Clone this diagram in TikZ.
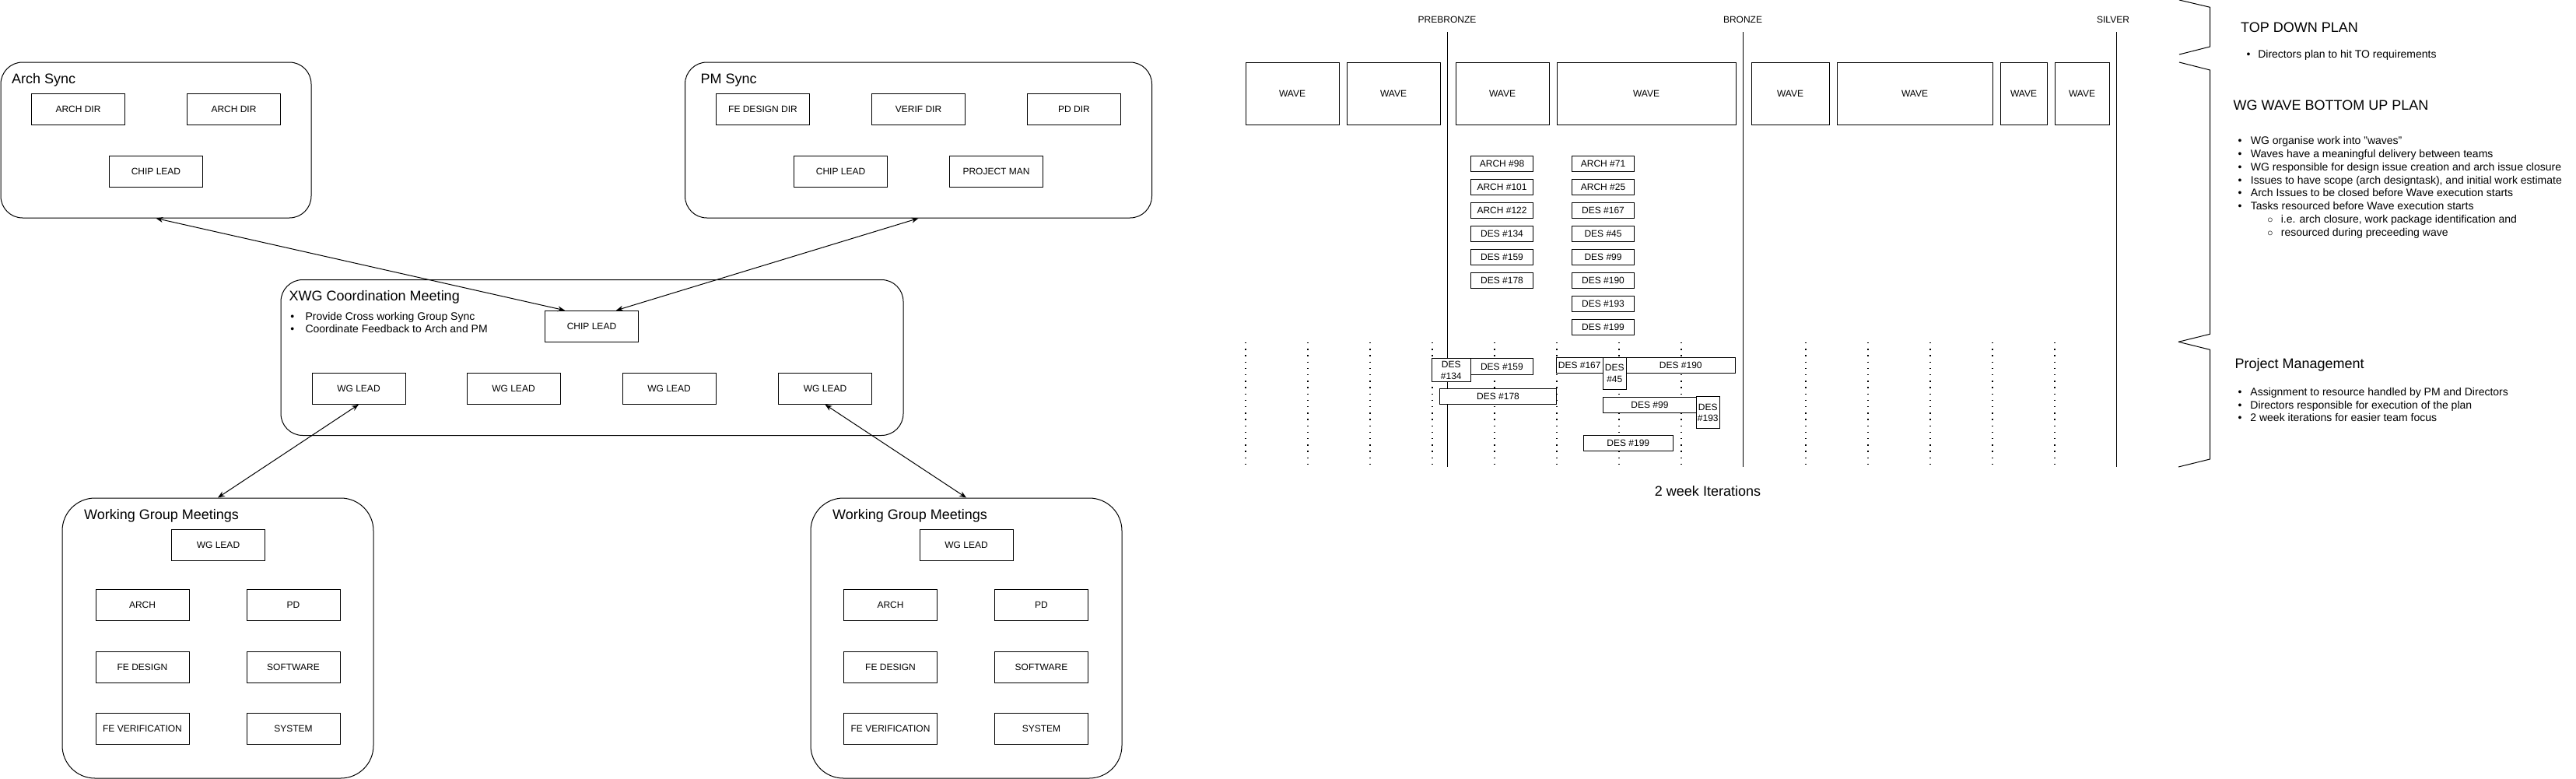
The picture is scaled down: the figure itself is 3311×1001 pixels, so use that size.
\documentclass[tikz,border=0pt]{standalone}
\usepackage{fontspec}
\setmainfont{Liberation Sans}
\usetikzlibrary{arrows.meta}

\begin{document}
\begin{tikzpicture}
	[x=1pt,y=-1pt,
	grp/.style={draw=black,line width=1pt,rounded corners=28pt,inner sep=0pt},
	role/.style={draw=black,line width=1pt,minimum width=120pt,minimum height=40pt,inner sep=0pt,font=\fontsize{12}{14.4}\selectfont},
	ttl/.style={anchor=base west,inner sep=0pt,font=\fontsize{18}{21.6}\selectfont},
	wave/.style={draw=black,line width=1pt,minimum height=80pt,inner sep=0pt,font=\fontsize{12}{14.4}\selectfont},
	issue/.style={draw=black,fill=white,line width=1pt,minimum width=80pt,minimum height=20pt,inner sep=0pt,font=\fontsize{12}{14.4}\selectfont},
	bar/.style={draw=black,fill=white,line width=1pt,inner sep=0pt,align=center,font=\fontsize{12}{14.4}\selectfont},
	gate/.style={anchor=base,inner sep=0pt,font=\fontsize{12}{14.4}\selectfont},
	iter/.style={line width=1.4pt,dash pattern=on 1.4pt off 6.8pt},
	link/.style={line width=1pt,>={Stealth[length=9pt,width=7pt]},<->},
	notes/.style={anchor=base west,inner sep=0pt}]
	\useasboundingbox (0,0) rectangle (3311,1001);

	% sync meetings
	\node[grp,minimum width=399pt,minimum height=200pt] at (200.5,180) (archsync) {};
	\node[ttl] at (15,107) (archttl) {Arch Sync};
	\node[role] at (100.5,140) (archdira) {ARCH DIR};
	\node[role] at (300.5,140) (archdirb) {ARCH DIR};
	\node[role] at (200.5,220) (archchip) {CHIP LEAD};

	\node[grp,minimum width=600pt,minimum height=200pt] at (1180.5,180) (pmsync) {};
	\node[ttl] at (900.5,107) (pmttl) {PM Sync};
	\node[role] at (980.5,140) (fedir) {FE DESIGN DIR};
	\node[role] at (1180.5,140) (verifdir) {VERIF DIR};
	\node[role] at (1380.5,140) (pddir) {PD DIR};
	\node[role] at (1080.5,220) (pmchip) {CHIP LEAD};
	\node[role] at (1280.5,220) (projman) {PROJECT MAN};

	% cross working group
	\node[grp,minimum width=800pt,minimum height=200pt] at (761,459.5) (xwg) {};
	\node[ttl] at (371.5,386.7) (xwgttl) {XWG Coordination Meeting};
	\node[notes,font=\fontsize{14}{16}\selectfont] at (373.2,411) (xwgnotes) {\begin{tabular}[t]{@{}l@{\hspace{14.2pt}}l@{}}
		\textbullet & Provide Cross working Group Sync\\
		\textbullet & Coordinate Feedback to Arch and PM
	\end{tabular}};
	\node[role] at (760.5,419.3) (xchip) {CHIP LEAD};
	\node[role] at (461,499.3) (xlead1) {WG LEAD};
	\node[role] at (660,499.3) (xlead2) {WG LEAD};
	\node[role] at (860,499.3) (xlead3) {WG LEAD};
	\node[role] at (1060.5,499.3) (xlead4) {WG LEAD};

	% working groups
	\node[grp,rounded corners=42pt,minimum width=400pt,minimum height=360pt] at (280,820) (wga) {};
	\node[ttl] at (108,667) (wgattl) {Working Group Meetings};
	\node[role] at (280.5,700) (wgalead) {WG LEAD};
	\node[role] at (183,777) (wgaarch) {ARCH};
	\node[role] at (377,777) (wgapd) {PD};
	\node[role] at (183,857) (wgafe) {FE DESIGN};
	\node[role] at (377,857) (wgasw) {SOFTWARE};
	\node[role] at (183,936.5) (wgaver) {FE VERIFICATION};
	\node[role] at (377,936.5) (wgasys) {SYSTEM};

	\node[grp,rounded corners=42pt,minimum width=400pt,minimum height=360pt] at (1242,820) (wgb) {};
	\node[ttl] at (1070,667) (wgbttl) {Working Group Meetings};
	\node[role] at (1242,700) (wgblead) {WG LEAD};
	\node[role] at (1144.5,777) (wgbarch) {ARCH};
	\node[role] at (1338.5,777) (wgbpd) {PD};
	\node[role] at (1144.5,857) (wgbfe) {FE DESIGN};
	\node[role] at (1338.5,857) (wgbsw) {SOFTWARE};
	\node[role] at (1144.5,936.5) (wgbver) {FE VERIFICATION};
	\node[role] at (1338.5,936.5) (wgbsys) {SYSTEM};

	\draw[link] (archsync.south) -- ([xshift=26pt]xchip.north west);
	\draw[link] (pmsync.south) -- ([xshift=-29pt]xchip.north east);
	\draw[link] (wga.north) -- (xlead1.south);
	\draw[link] (wgb.north) -- (xlead4.south);

	% iterations
	\draw[iter] (1601,440) -- (1601,600);
	\draw[iter] (1681,440) -- (1681,600);
	\draw[iter] (1761,440) -- (1761,600);
	\draw[iter] (1841,440) -- (1841,600);
	\draw[iter] (1921,440) -- (1921,600);
	\draw[iter] (2001,440) -- (2001,600);
	\draw[iter] (2081,440) -- (2081,600);
	\draw[iter] (2161,440) -- (2161,600);
	\draw[iter] (2321,440) -- (2321,600);
	\draw[iter] (2401,440) -- (2401,600);
	\draw[iter] (2481,440) -- (2481,600);
	\draw[iter] (2561,440) -- (2561,600);
	\draw[iter] (2641,440) -- (2641,600);

	% milestones
	\node[gate] at (1860,29.3) (prebronze) {PREBRONZE};
	\node[gate] at (2240,29.3) (bronze) {BRONZE};
	\node[gate] at (2716,29.3) (silver) {SILVER};
	\draw[line width=1pt] (1860,41) -- (1860,600);
	\draw[line width=1pt] (2240,41) -- (2240,600);
	\draw[line width=1pt] (2720.5,41) -- (2720.5,600);

	% waves
	\node[wave,minimum width=120pt] at (1661,120) (wave1) {WAVE};
	\node[wave,minimum width=120pt] at (1791,120) (wave2) {WAVE};
	\node[wave,minimum width=120pt] at (1931,120) (wave3) {WAVE};
	\node[wave,minimum width=230pt] at (2116,120) (wave4) {WAVE};
	\node[wave,minimum width=100pt] at (2301,120) (wave5) {WAVE};
	\node[wave,minimum width=200pt] at (2461,120) (wave6) {WAVE};
	\node[wave,minimum width=60pt] at (2601,120) (wave7) {WAVE};
	\node[wave,minimum width=70pt] at (2676,120) (wave8) {WAVE};

	% wave issues
	\node[issue] at (1930.5,210.3) (arch98) {ARCH \#98};
	\node[issue] at (1930.5,240.3) (arch101) {ARCH \#101};
	\node[issue] at (1930.5,270.3) (arch122) {ARCH \#122};
	\node[issue] at (1930.5,300.3) (des134) {DES \#134};
	\node[issue] at (1930.5,330.3) (des159) {DES \#159};
	\node[issue] at (1930.5,360.3) (des178) {DES \#178};
	\node[issue] at (2060.5,210.3) (arch71) {ARCH \#71};
	\node[issue] at (2060.5,240.3) (arch25) {ARCH \#25};
	\node[issue] at (2060.5,270.3) (des167) {DES \#167};
	\node[issue] at (2060.5,300.3) (des45) {DES \#45};
	\node[issue] at (2060.5,330.3) (des99) {DES \#99};
	\node[issue] at (2060.5,360.3) (des190) {DES \#190};
	\node[issue] at (2060.5,390) (des193) {DES \#193};
	\node[issue] at (2060.5,420) (des199) {DES \#199};

	% scheduled issues
	\node[bar,minimum width=50.5pt,minimum height=30pt] at (1865.3,475.7) (run134) {DES\\\#134};
	\node[bar,minimum width=80pt,minimum height=21pt] at (1930.4,471.2) (run159) {DES \#159};
	\node[bar,minimum width=150.3pt,minimum height=20pt] at (1925.5,509.3) (run178) {DES \#178};
	\node[bar,minimum width=60.4pt,minimum height=20pt] at (2030.2,469.3) (run167) {DES \#167};
	\node[bar,minimum width=140pt,minimum height=20pt] at (2160.3,469.3) (run190) {DES \#190};
	\node[bar,minimum width=30pt,minimum height=41.4pt] at (2075.3,480) (run45) {DES\\\#45};
	\node[bar,minimum width=120pt,minimum height=20pt] at (2120.4,520) (run99) {DES \#99};
	\node[bar,minimum width=30pt,minimum height=40.7pt] at (2195.3,530.3) (run193) {DES\\\#193};
	\node[bar,minimum width=115.6pt,minimum height=20pt] at (2092.8,569.3) (run199) {DES \#199};
	\node[anchor=base,inner sep=0pt,font=\fontsize{18}{21.6}\selectfont] at (2195,637) (iters) {2 week Iterations};

	% brackets
	\draw[line width=1pt] (2801,0) -- (2840.5,9.3) -- (2840.5,60) -- (2801,70);
	\draw[line width=1pt] (2801,80) -- (2840.5,90) -- (2840.5,429.3) -- (2800,439.3);
	\draw[line width=1pt] (2800,439.3) -- (2840.5,449.3) -- (2840.5,590) -- (2800,600);

	% plans
	\node[ttl] at (2880,41.7) (topdown) {TOP DOWN PLAN};
	\node[notes,font=\fontsize{14}{16.8}\selectfont] at (2887.5,74) (topnotes) {\begin{tabular}[t]{@{}l@{\hspace{9.7pt}}l@{}}
		\textbullet & Directors plan to hit TO requirements
	\end{tabular}};
	\node[ttl] at (2870.5,141.7) (bottomup) {WG WAVE BOTTOM UP PLAN};
	\node[notes,font=\fontsize{14}{16.8}\selectfont] at (2876.4,185.7) (wavenotes) {\begin{tabular}[t]{@{}l@{\hspace{11.4pt}}l@{}}
		\textbullet & WG organise work into "waves"\\
		\textbullet & Waves have a meaningful delivery between teams\\
		\textbullet & WG responsible for design issue creation and arch issue closure\\
		\textbullet & Issues to have scope (arch designtask), and initial work estimate\\
		\textbullet & Arch Issues to be closed before Wave execution starts\\
		\textbullet & Tasks resourced before Wave execution starts\\
		& \hspace{21pt}\makebox[8pt]{$\circ$}\hspace{9.9pt}i.e. arch closure, work package identification and\\
		& \hspace{21pt}\makebox[8pt]{$\circ$}\hspace{9.9pt}resourced during preceeding wave
	\end{tabular}};
	\node[ttl] at (2872.3,473.3) (pmplan) {Project Management};
	\node[notes,font=\fontsize{14}{16.5}\selectfont] at (2876.5,508.7) (pmnotes) {\begin{tabular}[t]{@{}l@{\hspace{10.8pt}}l@{}}
		\textbullet & Assignment to resource handled by PM and Directors\\
		\textbullet & Directors responsible for execution of the plan\\
		\textbullet & 2 week iterations for easier team focus
	\end{tabular}};
\end{tikzpicture}
\end{document}
